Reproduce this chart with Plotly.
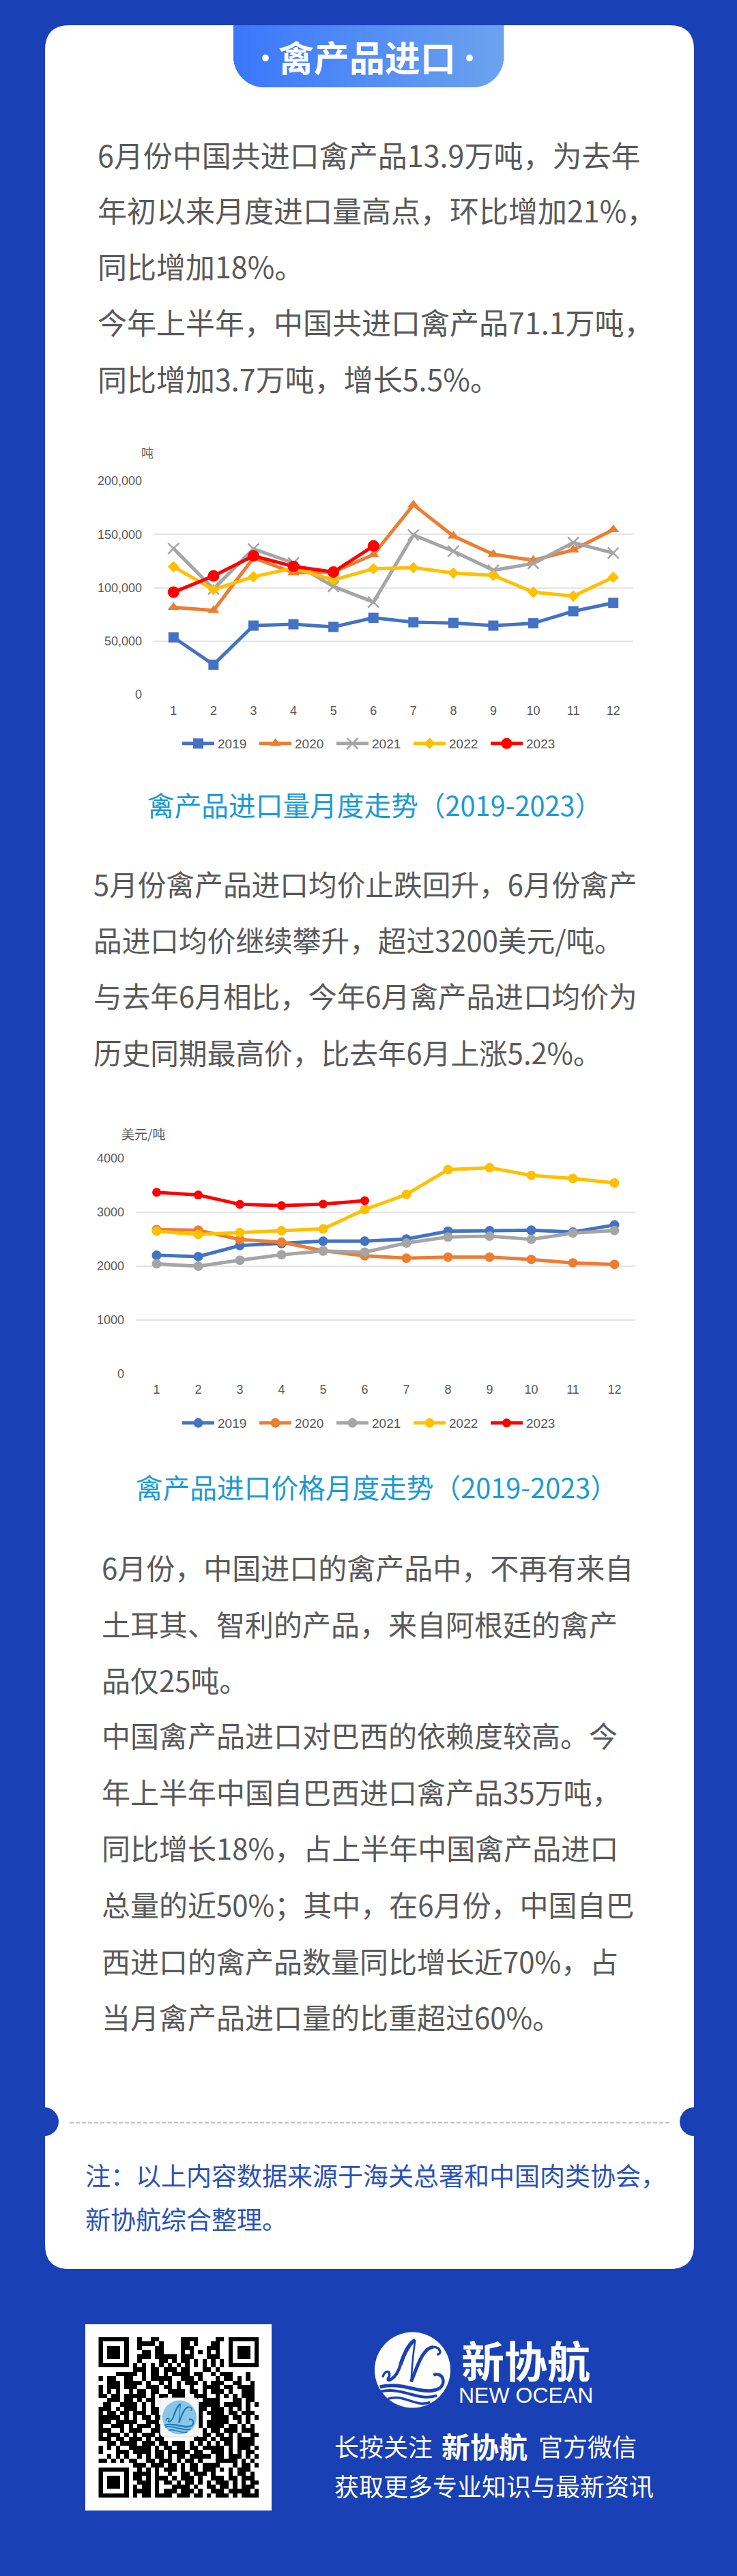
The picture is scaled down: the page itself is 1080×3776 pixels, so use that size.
import plotly.graph_objects as go

# ---------- data ----------
months = list(range(1, 13))
years = ["2019", "2020", "2021", "2022", "2023"]
volume_2019 = [53500, 27900, 64500, 65800, 63300, 71900, 67700, 67000, 64500, 66700, 78000, 85800]
volume_2020 = [81700, 78700, 128000, 114000, 114700, 131000, 177700, 148400, 131300, 125700, 135400, 154500]
volume_2021 = [136700, 98800, 136400, 123200, 101200, 86500, 149400, 134200, 116400, 122700, 142300, 132500]
volume_2022 = [119600, 98300, 110300, 118300, 107300, 117800, 118800, 113700, 111500, 95800, 92200, 109800]
volume_2023 = [95800, 111000, 129800, 120000, 114700, 139100]
price_2019 = [2199, 2175, 2379, 2417, 2461, 2461, 2500, 2646, 2655, 2665, 2631, 2762]
price_2020 = [2675, 2665, 2490, 2442, 2282, 2189, 2146, 2165, 2165, 2121, 2058, 2029]
price_2021 = [2039, 1995, 2107, 2209, 2277, 2257, 2427, 2539, 2553, 2495, 2612, 2660]
price_2022 = [2646, 2587, 2621, 2655, 2689, 3049, 3330, 3791, 3825, 3684, 3626, 3544]
price_2023 = [3369, 3320, 3146, 3121, 3150, 3214]
volume_ticks = [0, 50000, 100000, 150000, 200000]
price_ticks = [0, 1000, 2000, 3000, 4000]

para1 = ["6月份中国共进口禽产品13.9万吨，为去年", "年初以来月度进口量高点，环比增加21%，", "同比增加18%。",
         "今年上半年，中国共进口禽产品71.1万吨，", "同比增加3.7万吨，增长5.5%。"]
para2 = ["5月份禽产品进口均价止跌回升，6月份禽产", "品进口均价继续攀升，超过3200美元/吨。",
         "与去年6月相比，今年6月禽产品进口均价为", "历史同期最高价，比去年6月上涨5.2%。"]
para3 = ["6月份，中国进口的禽产品中，不再有来自", "土耳其、智利的产品，来自阿根廷的禽产", "品仅25吨。",
         "中国禽产品进口对巴西的依赖度较高。今", "年上半年中国自巴西进口禽产品35万吨，",
         "同比增长18%，占上半年中国禽产品进口", "总量的近50%；其中，在6月份，中国自巴",
         "西进口的禽产品数量同比增长近70%，占", "当月禽产品进口量的比重超过60%。"]
note = ["注：以上内容数据来源于海关总署和中国肉类协会，", "新协航综合整理。"]

qr_rows = [
"#######..#..##.....####....##.#######",
"#.....#..####.#....##.#...##..#.....#",
"#.###.#..#...##....###...###..#.###.#",
"#.###.#...##.##....#.#.#.#.#..#.###.#",
"#.###.#..###.#####.###...###..#.###.#",
"#.....#..#....##.#.##.#.#.#.#.#.....#",
"#######.#.#.#.#.#.#.#.#.#.#.#.#######",
"........###.##.###.##...##.#.........",
"....#####.#.##.#.####.##..#.###...#..",
"#.##..##..#.#####..###.#...#.##.#.#..",
"..###.####.#..#.#.#.###.#.###..##..#.",
"#.###.###..###.##.#..#..####.##.####.",
"#.#.#..#.##.##..####.##.#.###.#..###.",
"##.##.#####.#.##.###..###..#.#.#.###.",
"..###.##.#.##...##..###.####...##.##.",
".##..####.#.#...#####..#####.####.#.#",
"###.#.###.#.##.......#.##.###.#.#.#..",
"#.##.##.###.##.......#.#.####.##.###.",
"#####.#.#.##.##......#.#..####.##.#.#",
"###.#####..###........##.#####..#.#..",
"#..###.#.###.##......###.####.##.#.#.",
"###..#.###..###......##.#.##.###.###.",
"#.###.#.#.###.#.......#.##.##.#.#..##",
"###.##.###.#.##.......###.#.###.####.",
"..##.####.###.##.###.#.#.#.#.##.####.",
"#.#.#..#####.#.##.##.##.#####.#.###.#",
"#...###.####.##.#####.##..###.#.#.##.",
"..#.#.#..#.#.##.#.##.#####.##.###.#.#",
"##.#.#.##..##.###.#.##.#...#####.#.#.",
"........###.###.##.#.##.####...#.##.#",
"#######..#.#.#.###.#.##.###.#.#.###..",
"#.....#.####.#..#..##.###.#...#.##.#.",
"#.###.#.##.#.###.#.###.#..###.##.###.",
"#.###.#..###.#.##.#.##.#.#.###.#.#.##",
"#.###.#.#.##.#...####.#..##.##.#.###.",
"#.....#.####.#.###.###.#..###.#####.#",
"#######.#.##.####.###.##.#.###.#.####",
]

# ---------- styles ----------
W, H = 1080, 3776
BG = "#1a40b6"
TXT = "#595959"
CAP = "#1a9ad6"
NOTE = "#2a52b8"
CJK = "Noto Sans CJK SC"
NUM = "Liberation Sans"
COL = ["#4472c4", "#ed7d31", "#a5a5a5", "#ffc000", "#ff0000"]

fig = go.Figure()
shapes, ann = [], []


def text(x, y, s, size, color, anchor="left", bold=False, family=CJK, dy=-3):
    t = f"<b>{s}</b>" if bold else s
    ann.append(dict(x=x, y=y + dy, xref="x", yref="y", text=t, showarrow=False, xanchor=anchor, yanchor="middle",
                    font=dict(size=size, color=color, family=family), align=anchor))


def rect_path(x0, y0, x1, y1, r):
    return (f"M{x0+r},{y0} L{x1-r},{y0} Q{x1},{y0} {x1},{y0+r} L{x1},{y1-r} Q{x1},{y1} {x1-r},{y1} "
            f"L{x0+r},{y1} Q{x0},{y1} {x0},{y1-r} L{x0},{y0+r} Q{x0},{y0} {x0+r},{y0} Z")


def shape_path(path, fill=None, line=None, lw=0, layer="below"):
    shapes.append(dict(type="path", path=path, xref="x", yref="y", layer=layer,
                       fillcolor=fill if fill else "rgba(0,0,0,0)",
                       line=dict(color=line if line else "rgba(0,0,0,0)", width=lw)))


def circle(cx, cy, r, fill, layer="below"):
    shapes.append(dict(type="circle", x0=cx-r, x1=cx+r, y0=cy-r, y1=cy+r, xref="x", yref="y", layer=layer,
                       fillcolor=fill, line=dict(width=0)))


# card and notches
shape_path(rect_path(66, 37, 1017, 3326, 36), fill="#ffffff")
circle(65, 3110, 21, BG)
circle(1017, 3110, 21, BG)
shapes.append(dict(type="line", x0=102, x1=983, y0=3111.5, y1=3111.5, xref="x", yref="y", layer="below",
                   line=dict(color="#bdbdbd", width=2, dash="6px,3px")))

# header pill, gradient built from slices
PX0, PX1, PY0, PY1, PR = 342, 738, 37, 128, 45
c0, c1 = (0x3a, 0x78, 0xfb), (0x6c, 0xa2, 0xee)
step = 1
for i in range((PX1 - PX0) // step):
    xa, xb = PX0 + i * step, PX0 + (i + 1) * step
    xm = (xa + xb) / 2
    d = 0
    if xm < PX0 + PR:
        d = PX0 + PR - xm
    elif xm > PX1 - PR:
        d = xm - (PX1 - PR)
    yb = PY1 - PR + (PR ** 2 - min(d, PR) ** 2) ** 0.5
    t = i / ((PX1 - PX0) / step - 1)
    col = "rgb({},{},{})".format(*[round(c0[k] + (c1[k] - c0[k]) * t) for k in range(3)])
    shapes.append(dict(type="rect", x0=xa, x1=xb + 0.5, y0=PY0, y1=yb, xref="x", yref="y", layer="below",
                       fillcolor=col, line=dict(width=0)))
text(537.5, 85, "禽产品进口", 52, "#ffffff", "center", bold=True)
circle(389, 85, 5, "#ffffff")
circle(688, 85, 5, "#ffffff")

# paragraphs
for s, y in zip(para1, [228.5, 310, 391.5, 473.7, 556.7]):
    text(141, y, s, 43, TXT)
for s, y in zip(para2, [1298, 1380, 1462, 1545]):
    text(135, y, s, 41.7, TXT)
for s, y in zip(para3, [2299.6, 2382, 2464, 2545, 2628, 2710, 2793, 2876, 2958]):
    text(147, y, s, 42, TXT)
for s, y in zip(note, [3190.6, 3255]):
    text(123, y, s, 37, NOTE)

# captions and units
text(549, 1181, "禽产品进口量月度走势（2019-2023）", 39.7, CAP, "center")
text(552, 2181, "禽产品进口价格月度走势（2019-2023）", 39.7, CAP, "center")
text(216, 664, "吨", 18, TXT, "center", dy=-1)
text(210, 1661, "美元/吨", 19, TXT, "center", dy=0)

# footer
shapes.append(dict(type="rect", x0=125, x1=398, y0=3407, y1=3680, xref="x", yref="y", layer="below",
                   fillcolor="#ffffff", line=dict(width=0)))
text(770.5, 3460, "新协航", 63, "#ffffff", "center", bold=True)
text(770.5, 3511, "NEW OCEAN", 32, "#ffffff", "center", family=NUM, dy=0)
text(488, 3587.6, "长按关注", 36, "#ffffff")
text(645, 3587.6, "新协航", 42, "#ffffff", bold=True)
text(787, 3587.6, "官方微信", 36, "#ffffff")
text(488, 3646, "获取更多专业知识与最新资讯", 36, "#ffffff")


def logo(cx, cy, k, color, layer):
    """Script N and waves, relative to the circle centre, k = scale."""
    def P(z):
        return f"{cx + (z[0]-193)/3*k:.1f},{cy + (z[1]-193)/3*k:.1f}"
    curves = [
        ([(62, 225), (70, 190), (100, 195), (90, 225)], 3.5),
        ([(90, 225), (70, 250), (120, 240), (140, 170)], 4.5),
        ([(140, 170), (160, 110), (185, 70), (205, 62)], 5.5),
        ([(205, 62), (195, 120), (190, 190), (187, 245)], 2.5),
        ([(187, 245), (210, 190), (235, 95), (285, 92)], 5),
        ([(285, 92), (315, 92), (325, 125), (300, 125)], 3.5),
        ([(50, 268), (150, 240), (240, 310), (310, 275)], 5),
        ([(310, 275), (345, 250), (325, 200), (285, 215)], 4.5),
        ([(52, 288), (150, 265), (220, 335), (300, 305)], 4),
        ([(85, 320), (150, 295), (210, 360), (270, 335)], 3.5),
    ]
    for pts, w in curves:
        shape_path(f"M{P(pts[0])} C{P(pts[1])} {P(pts[2])} {P(pts[3])}", line=color, lw=w * k, layer=layer)


circle(604.5, 3474, 55.5, "#ffffff")
logo(604.5, 3474, 1, BG, "below")

# QR centre logo, above the heatmap
shape_path(rect_path(235, 3515, 291, 3572, 6), fill="#f6f6f6", line="#dddddd", lw=1, layer="above")
circle(263, 3543.5, 25, "#86c6e8", layer="above")
logo(263, 3543.5, 25 / 55.5, "#1f78b8", "above")

# ---------- chart traces ----------
symbols = ["square", "triangle-up", "x-thin", "diamond", "circle"]
vol_sizes = [15, 15, 16, 13, 17]
volumes = [volume_2019, volume_2020, volume_2021, volume_2022, volume_2023]
prices = [price_2019, price_2020, price_2021, price_2022, price_2023]
price_sizes = [14, 14, 14, 14, 13]

for y_name, col, sym, size, vals in zip(years, COL, symbols, vol_sizes, volumes):
    marker = dict(symbol=sym, size=size, color=col, line=dict(color=col, width=2.5 if sym == "x-thin" else 0))
    fig.add_trace(go.Scatter(x=months[:len(vals)], y=vals, name=y_name, xaxis="x2", yaxis="y2", mode="lines+markers",
                             line=dict(color=col, width=5), marker=marker, legend="legend"))
for y_name, col, size, vals in zip(years, COL, price_sizes, prices):
    fig.add_trace(go.Scatter(x=months[:len(vals)], y=vals, name=y_name, xaxis="x3", yaxis="y3", mode="lines+markers",
                             line=dict(color=col, width=5), marker=dict(symbol="circle", size=size, color=col),
                             legend="legend2"))

# QR as heatmap
qr_z = [[1 if c == "#" else 0 for c in row.ljust(37, ".")[:37]] for row in qr_rows]
fig.add_trace(go.Heatmap(z=qr_z, xaxis="x4", yaxis="y4", zmin=0, zmax=1, showscale=False,
                         colorscale=[[0, "#ffffff"], [1, "#000000"]], hoverinfo="skip"))


def xdom(a, b):
    return [a / W, b / W]


def ydom(top, bottom):
    return [1 - bottom / H, 1 - top / H]


axis_font = dict(size=18, color=TXT, family=NUM)
common_x = dict(range=[0.5, 12.5], tickmode="array", tickvals=months, showgrid=False, zeroline=False, showline=False,
                ticks="", tickfont=axis_font, ticklabelstandoff=11)
common_y = dict(tickmode="array", showgrid=True, gridcolor="#e4e4e4", gridwidth=2, zeroline=False, showline=False,
                ticks="", tickfont=axis_font, ticklabelstandoff=16)

legend_common = dict(orientation="h", font=dict(size=19, color=TXT, family=NUM), itemwidth=47, entrywidth=51,
                     entrywidthmode="pixels", xanchor="left", yanchor="middle", bgcolor="rgba(0,0,0,0)",
                     itemclick=False, itemdoubleclick=False, tracegroupgap=0, xref="container", yref="container")

fig.update_layout(
    width=W, height=H, margin=dict(l=0, r=0, t=0, b=0, autoexpand=False), autosize=False,
    paper_bgcolor=BG, plot_bgcolor="rgba(0,0,0,0)",
    shapes=shapes, annotations=ann, hovermode=False,
    xaxis=dict(domain=[0, 1], range=[0, W], visible=False, fixedrange=True),
    yaxis=dict(domain=[0, 1], range=[H, 0], visible=False, fixedrange=True),
    xaxis2=dict(domain=xdom(225, 928), anchor="y2", **common_x),
    yaxis2=dict(domain=ydom(705, 1018), anchor="x2", range=[0, 200000], tickvals=volume_ticks, tickformat=",", **common_y),
    xaxis3=dict(domain=xdom(199, 931), anchor="y3", **common_x),
    yaxis3=dict(domain=ydom(1698, 2013.4), anchor="x3", range=[0, 4000], tickvals=price_ticks, tickformat="d", **common_y),
    xaxis4=dict(domain=xdom(144.3, 379.3), anchor="y4", range=[-0.5, 36.5], visible=False),
    yaxis4=dict(domain=ydom(3426, 3661), anchor="x4", range=[36.5, -0.5], visible=False),
    legend=dict(x=262 / W, y=1 - 1090 / H, **legend_common),
    legend2=dict(x=262 / W, y=1 - 2086 / H, **legend_common),
)

fig.write_html("out.html", config=dict(displayModeBar=False),
               post_script="document.body.style.margin='0';document.body.style.background='" + BG + "';")
